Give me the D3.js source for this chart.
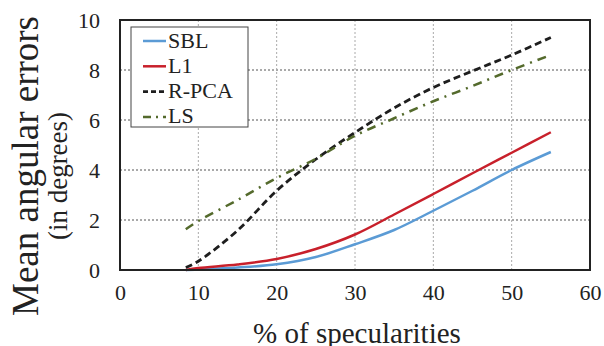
<!DOCTYPE html>
<html>
<head>
<meta charset="utf-8">
<script src="https://cdn.jsdelivr.net/npm/d3@7"></script>
<style>
  body { margin: 0; background: #fff; }
  svg text { font-family: "Liberation Serif", "Times New Roman", "DejaVu Serif", serif; fill: #222; }
</style>
</head>
<body>
<svg id="chart" width="604" height="346"></svg>
<script>
// % of specularities
var specularity = [8.4, 10, 15, 20, 25, 30, 35, 40, 45, 50, 55];

var sbl  = [0, 0.02, 0.10, 0.23, 0.52, 1.03, 1.60, 2.37, 3.17, 4.00, 4.72];
var l1   = [0, 0.08, 0.22, 0.44, 0.84, 1.42, 2.22, 3.04, 3.87, 4.69, 5.51];
var rpca = [0.10, 0.35, 1.58, 3.17, 4.43, 5.50, 6.48, 7.30, 7.96, 8.60, 9.30];
var ls   = [1.63, 1.96, 2.80, 3.68, 4.45, 5.37, 6.07, 6.75, 7.36, 8.00, 8.60];

var xTicks = [0, 10, 20, 30, 40, 50, 60];
var yTicks = [0, 2, 4, 6, 8, 10];

var series = [
  { name: 'SBL',   values: sbl,  color: '#5b9bd5', width: 2.5, dash: null },
  { name: 'L1',    values: l1,   color: '#c8202b', width: 2.5, dash: null },
  { name: 'R-PCA', values: rpca, color: '#1e1e1e', width: 2.8, dash: '7,4' },
  { name: 'LS',    values: ls,   color: '#546a2c', width: 2.5, dash: '9,6,2,6' }
];

var serif = '"Liberation Serif", "Times New Roman", "DejaVu Serif", serif';

var margin = { left: 120, right: 14, top: 20, bottom: 76 };
var svg = d3.select('#chart');
var width = +svg.attr('width') - margin.left - margin.right;
var height = +svg.attr('height') - margin.top - margin.bottom;

var x = d3.scaleLinear().domain([0, 60]).range([0, width]);
var y = d3.scaleLinear().domain([0, 10]).range([height, 0]);

var g = svg.append('g')
  .attr('transform', 'translate(' + margin.left + ',' + margin.top + ')');

// grid: dark dotted horizontals, light dotted verticals
g.append('g')
  .selectAll('line')
  .data(yTicks.slice(1, -1))
  .join('line')
  .attr('x1', 0).attr('x2', width)
  .attr('y1', function(d) { return y(d); })
  .attr('y2', function(d) { return y(d); })
  .attr('stroke', '#555')
  .attr('stroke-dasharray', '2,2');

g.append('g')
  .selectAll('line')
  .data(xTicks.slice(1, -1))
  .join('line')
  .attr('y1', 0).attr('y2', height)
  .attr('x1', function(d) { return x(d); })
  .attr('x2', function(d) { return x(d); })
  .attr('stroke', '#aaa')
  .attr('stroke-dasharray', '2,2');

// axes, labels only
var xAxis = g.append('g')
  .attr('transform', 'translate(0,' + height + ')')
  .call(d3.axisBottom(x).tickValues(xTicks).tickSize(0).tickPadding(14));

var yAxis = g.append('g')
  .call(d3.axisLeft(y).tickValues(yTicks).tickSize(0).tickPadding(20));

[xAxis, yAxis].forEach(function(a) {
  a.attr('font-family', serif).attr('font-size', 22);
  a.select('.domain').remove();
  a.selectAll('text').attr('fill', '#222');
});
yAxis.selectAll('text').attr('dy', '0.32em');
xAxis.selectAll('text').attr('dy', '0.71em');

var line = d3.line()
  .x(function(d) { return x(d[0]); })
  .y(function(d) { return y(d[1]); })
  .curve(d3.curveCatmullRom.alpha(0.5));

g.append('g')
  .selectAll('path')
  .data(series)
  .join('path')
  .attr('fill', 'none')
  .attr('stroke', function(d) { return d.color; })
  .attr('stroke-width', function(d) { return d.width; })
  .attr('stroke-dasharray', function(d) { return d.dash; })
  .attr('d', function(d) {
    return line(specularity.map(function(s, i) { return [s, d.values[i]]; }));
  });

// plot frame
g.append('rect')
  .attr('x', 0).attr('y', 0)
  .attr('width', width).attr('height', height)
  .attr('fill', 'none')
  .attr('stroke', '#222')
  .attr('stroke-width', 2);

// legend
var legend = g.append('g').attr('transform', 'translate(11,7)');

legend.append('rect')
  .attr('width', 117).attr('height', 100)
  .attr('fill', '#fff')
  .attr('stroke', '#444');

var items = legend.selectAll('g.item')
  .data(series)
  .join('g')
  .attr('class', 'item')
  .attr('transform', function(d, i) { return 'translate(0,' + (20.5 + i * 25.3) + ')'; });

items.append('line')
  .attr('x1', 12).attr('x2', 35)
  .attr('y1', -6.5).attr('y2', -6.5)
  .attr('stroke', function(d) { return d.color; })
  .attr('stroke-width', function(d) { return d.width; })
  .attr('stroke-dasharray', function(d) { return d.name === 'LS' ? '8,5,2,5' : d.name === 'R-PCA' ? '5,3' : null; });

items.append('text')
  .attr('x', 37)
  .attr('font-family', serif)
  .attr('font-size', 22)
  .text(function(d) { return d.name; });

// axis titles
svg.append('text')
  .attr('x', margin.left + width / 2 + 2)
  .attr('y', 343)
  .attr('text-anchor', 'middle')
  .attr('font-family', serif)
  .attr('font-size', 29)
  .text('% of specularities');

var yTitle = svg.append('text')
  .attr('transform', 'translate(0,166) rotate(-90)')
  .attr('text-anchor', 'middle')
  .attr('font-family', serif)
  .attr('font-size', 37);

yTitle.append('tspan')
  .attr('x', 0).attr('y', 38)
  .text('Mean angular errors');

yTitle.append('tspan')
  .attr('x', -10).attr('y', 67)
  .attr('font-size', 27)
  .text('(in degrees)');
</script>
</body>
</html>
